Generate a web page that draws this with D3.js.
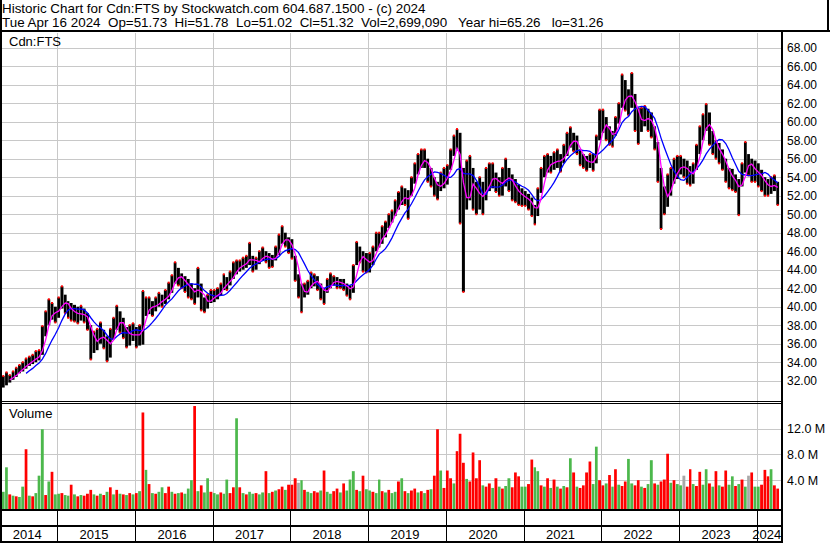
<!DOCTYPE html>
<html lang="en">
<head>
<meta charset="utf-8">
<title>Historic Chart Cdn:FTS</title>
<script src="https://d3js.org/d3.v7.min.js"></script>
<style>
  body { margin: 0; background: #fff; }
  svg { display: block; font-family: Arial, "Liberation Sans", sans-serif; }
  text { white-space: pre; }
</style>
</head>
<body>
<script>
// header text
var titleLine = "Historic Chart for Cdn:FTS by Stockwatch.com 604.687.1500 - (c) 2024";
var quoteLine = "Tue Apr 16 2024  Op=51.73  Hi=51.78  Lo=51.02  Cl=51.32  Vol=2,699,090   Year hi=65.26   lo=31.26";
var symbolLabel = "Cdn:FTS";

// x axis years (label row)
var years = [2014, 2015, 2016, 2017, 2018, 2019, 2020, 2021, 2022, 2023, 2024];

// price ticks on the right
var priceTicks = d3.range(32, 69, 2);
// volume ticks (millions)
var volTicks = [4, 8, 12];

// half-month periods, Apr 16 2014 -> Apr 16 2024 : high / low
var priceHigh = [
  // 2014 (from Apr 16)
  32.5, 32.9, 32.6, 33.0, 33.4, 33.7, 34.0, 34.4, 34.6, 34.8, 35.2, 35.3, 37.9, 39.5, 40.8, 40.4, 40.0,
  // 2015
  41.0, 42.2, 41.3, 40.6, 40.4, 40.2, 40.0, 40.1, 39.8, 39.3, 38.0, 37.3, 37.6, 38.3, 37.5, 36.8, 37.6, 38.8, 40.1, 39.5, 38.8, 37.8, 38.0, 38.2,
  // 2016
  37.8, 38.0, 41.7, 41.0, 41.0, 40.6, 41.0, 41.5, 41.3, 41.8, 42.6, 43.4, 44.8, 44.2, 43.6, 43.3, 43.0, 42.5, 42.0, 44.2, 42.5, 41.0, 41.3, 41.8,
  // 2017
  41.8, 42.0, 42.5, 43.5, 43.2, 43.8, 44.8, 45.0, 45.0, 45.3, 45.5, 46.9, 45.5, 45.3, 46.0, 46.4, 46.0, 45.8, 45.6, 46.5, 47.8, 48.7, 48.0, 47.5,
  // 2018
  47.3, 45.5, 43.5, 42.5, 42.5, 42.8, 43.7, 43.5, 43.3, 42.5, 42.0, 43.0, 43.6, 43.3, 43.2, 43.0, 43.0, 42.5, 42.3, 44.5, 47.0, 46.5, 46.0, 45.8,
  // 2019
  45.8, 46.5, 48.0, 48.0, 48.7, 49.2, 50.0, 50.4, 51.5, 52.4, 53.0, 52.8, 52.6, 54.0, 55.5, 56.5, 57.0, 57.0, 56.0, 55.0, 54.0, 53.5, 54.5, 55.0,
  // 2020
  55.3, 57.0, 58.5, 59.2, 58.8, 55.0, 55.8, 56.3, 55.0, 53.5, 54.0, 53.5, 55.0, 55.5, 55.5, 54.5, 54.0, 55.0, 56.0, 55.0, 54.3, 53.8, 53.2, 52.8,
  // 2021
  52.5, 52.2, 51.8, 51.0, 52.8, 55.0, 56.3, 56.5, 56.3, 56.7, 57.0, 56.5, 57.5, 58.8, 59.4, 58.8, 58.5, 57.0, 56.5, 56.3, 56.5, 56.5, 58.5, 61.3,
  // 2022
  61.3, 60.5, 59.5, 59.0, 60.5, 62.0, 65.1, 64.5, 63.5, 65.26, 63.0, 61.5, 61.5, 61.7, 61.4, 61.0, 59.5, 57.8, 55.0, 53.0, 54.3, 55.0, 56.0, 56.3,
  // 2023
  56.3, 56.0, 55.8, 55.2, 55.5, 57.5, 59.5, 60.8, 61.9, 61.0, 59.0, 58.0, 57.7, 57.0, 56.0, 55.0, 54.9, 54.3, 53.8, 55.5, 57.8, 56.5, 56.0, 55.8,
  // 2024 (to Apr 16)
  55.5, 54.8, 54.0, 53.8, 54.0, 54.2, 53.5
];
var priceLow = [
  // 2014
  31.26, 31.5, 31.8, 32.1, 32.4, 32.8, 33.0, 33.3, 33.6, 33.8, 34.0, 34.2, 34.8, 36.8, 38.0, 38.6, 38.3,
  // 2015
  38.8, 39.8, 39.3, 38.8, 38.5, 38.4, 38.2, 38.5, 38.3, 37.5, 34.3, 35.0, 35.3, 36.0, 35.5, 34.1, 34.5, 36.5, 37.5, 37.2, 36.6, 35.6, 35.8, 36.3,
  // 2016
  35.6, 35.8, 35.9, 39.0, 39.2, 39.0, 39.5, 40.0, 40.0, 40.3, 40.8, 41.5, 42.5, 42.3, 42.0, 41.6, 41.0, 40.8, 40.3, 41.0, 39.6, 39.4, 39.8, 40.4,
  // 2017
  40.5, 40.8, 41.2, 41.8, 41.8, 42.3, 43.0, 43.5, 43.8, 44.0, 44.2, 44.5, 43.8, 44.0, 44.6, 45.0, 44.8, 44.2, 44.3, 45.0, 45.6, 46.8, 46.5, 45.8,
  // 2018
  45.2, 42.8, 41.0, 39.4, 41.0, 41.3, 42.0, 42.2, 41.8, 40.8, 40.3, 41.5, 42.0, 42.3, 42.0, 42.0, 41.8, 41.2, 40.8, 41.5, 44.5, 44.8, 43.8, 43.7,
  // 2019
  43.7, 44.5, 46.0, 46.4, 46.8, 47.5, 48.5, 49.1, 49.8, 50.5, 51.0, 51.0, 49.5, 52.0, 53.3, 54.3, 55.0, 55.0, 53.5, 53.0, 52.0, 51.6, 52.5, 52.8,
  // 2020
  53.2, 54.8, 56.3, 57.0, 49.0, 41.6, 50.5, 51.5, 50.5, 50.0, 50.5, 50.0, 51.5, 52.5, 52.8, 52.4, 52.0, 52.0, 53.0, 52.5, 51.5, 51.3, 51.0, 50.9,
  // 2021
  50.9, 50.5, 49.8, 48.9, 49.8, 52.3, 54.0, 54.5, 54.5, 54.8, 55.0, 54.6, 55.5, 56.3, 57.2, 56.8, 56.5, 55.3, 55.0, 54.7, 55.0, 54.7, 55.5, 58.0,
  // 2022
  58.8, 58.0, 57.5, 57.3, 58.5, 59.8, 61.5, 61.2, 60.7, 61.5, 59.0, 57.6, 58.9, 59.5, 59.0, 58.3, 57.0, 53.5, 48.4, 50.0, 50.8, 52.0, 53.3, 53.8,
  // 2023
  54.3, 54.0, 53.3, 53.1, 53.3, 54.8, 56.5, 58.0, 59.0, 57.5, 56.5, 56.0, 55.5, 54.8, 53.5, 52.8, 52.6, 52.4, 49.9, 53.0, 54.5, 54.2, 53.5, 53.5,
  // 2024
  53.0, 52.5, 52.0, 52.0, 52.2, 52.5, 51.0
];

// volume per half-month, millions of shares
var volume = [
  // 2014
  2.2, 6.0, 1.8, 1.6, 1.5, 1.4, 3.0, 8.8, 1.6, 1.5, 2.0, 4.7, 11.9, 1.7, 3.8, 5.3, 1.8,
  // 2015
  1.9, 2.0, 1.7, 1.6, 3.3, 1.8, 1.5, 1.7, 1.6, 1.9, 2.5, 1.8, 1.6, 1.9, 1.7, 2.2, 2.9, 1.8, 2.5, 1.9, 1.8, 1.7, 2.0, 1.8,
  // 2016
  2.0, 2.3, 14.5, 5.6, 3.4, 2.0, 1.9, 2.2, 2.9, 2.0, 3.0, 2.2, 1.9, 2.0, 2.1, 1.9, 2.7, 4.0, 15.5, 2.3, 3.2, 2.1, 4.3, 2.2,
  // 2017
  2.0, 1.8, 2.1, 1.9, 4.1, 2.0, 2.9, 13.6, 2.9, 2.0, 1.8, 2.2, 1.9, 2.0, 1.8, 2.1, 5.4, 2.0, 2.2, 2.4, 2.6, 3.0, 2.5, 3.3,
  // 2018
  3.3, 4.3, 3.6, 4.0, 2.5, 2.2, 2.0, 2.3, 2.1, 2.4, 5.5, 2.2, 1.9, 2.3, 2.7, 2.1, 3.5, 2.4, 4.1, 5.4, 2.5, 2.3, 4.7, 2.6,
  // 2019
  2.4, 2.2, 2.0, 4.1, 2.3, 2.1, 2.5, 2.0, 2.2, 3.8, 4.3, 2.3, 2.0, 2.4, 2.7, 2.1, 2.3, 2.0, 2.5, 2.6, 4.7, 11.9, 5.5, 2.8,
  // 2020
  5.5, 4.3, 3.5, 8.5, 11.2, 6.7, 4.2, 3.8, 8.3, 4.3, 7.1, 3.2, 3.0, 3.5, 2.8, 4.3, 3.0, 2.7, 3.1, 4.3, 2.9, 5.2, 4.6, 3.0,
  // 2021
  3.0, 3.4, 7.2, 6.0, 5.4, 3.2, 3.0, 4.3, 2.8, 4.1, 3.0, 2.7, 3.1, 2.9, 7.4, 5.2, 3.0, 2.8, 3.2, 5.2, 6.9, 3.4, 9.2, 4.0,
  // 2022
  3.2, 3.5, 4.8, 3.0, 5.7, 3.3, 3.1, 3.8, 7.3, 3.5, 3.2, 4.0, 3.0, 2.8, 3.4, 7.1, 3.5, 3.3, 3.8, 4.1, 8.1, 3.6, 4.0, 3.4,
  // 2023
  3.2, 4.7, 3.0, 5.7, 3.4, 3.1, 5.3, 3.3, 5.7, 3.5, 3.0, 5.4, 3.2, 3.0, 5.5, 3.3, 4.6, 3.1, 3.4, 4.1, 3.0, 4.7, 5.2, 3.0,
  // 2024
  3.0, 3.3, 5.6, 4.6, 5.7, 3.2, 2.7
];
// bar colour per period: g = up, r = down, x = unchanged
var volColor = (
  "ggrgrggrgrgggrgrg" +
  "grggrgrgrrrgrgrgrgrgrgrg" +
  "rgrgrgrggrrgrgrgggrgrggr" +
  "ggrggrrgrgrggrggrgrgrrgr" +
  "rrxgrggrrgrggrrgrgggrgrg" +
  "grggrgrggrgrgrrgrgrgrrgr" +
  "rrgrrrgrrrrgrrgrgrggrrrg" +
  "grrggrgrgrgrgrgrgrrrrggr" +
  "rgrgrgrrggrrgrggrgrrrgrg" +
  "gxrrgrrggrgrgrrggrgrgxrg" +
  "grrrgrr").split("");

var colors = { g: "#4cb84c", r: "#ff0000", x: "#a8a8a8" };

// layout
var W = 830, H = 543;
var plotL = 2, plotR = 781;
var priceTop = 33, priceBot = 400;
var volBot = 509;

var svg = d3.select("body").append("svg").attr("width", W).attr("height", H);
svg.append("rect").attr("width", W).attr("height", H).attr("fill", "#fff");

var x = d3.scaleTime()
  .domain([new Date(2014, 3, 16), new Date(2024, 3, 16)])
  .range([1.7, 779.3]);
var yP = d3.scaleLinear().domain([32, 68]).range([380.7, 47.7]);
var yV = d3.scaleLinear().domain([0, 16]).range([506, 402.8]);

// period start date, half months counted from Jan 1 2014
function periodDate(i) {
  var h = 7 + i;
  var yr = 2014 + Math.floor(h / 24), hm = h % 24;
  return new Date(yr, Math.floor(hm / 2), hm % 2 ? 16 : 1);
}
var periods = priceHigh.map(function(hi, i) {
  var x0 = x(periodDate(i)), x1 = x(periodDate(i + 1));
  return { x0: x0, x1: x1, xc: (x0 + x1) / 2, hi: hi, lo: priceLow[i],
           mid: (hi + priceLow[i]) / 2, vol: volume[i], col: volColor[i] };
});

function movAvg(n) {
  var out = [];
  periods.forEach(function(p, i) {
    if (i < n - 1) return;
    out.push({ xc: p.xc, v: d3.mean(periods.slice(i - n + 1, i + 1), function(d) { return d.mid; }) });
  });
  return out;
}

// clip
svg.append("clipPath").attr("id", "pclip").append("rect")
  .attr("x", plotL).attr("y", priceTop).attr("width", plotR - plotL).attr("height", priceBot - priceTop);
svg.append("clipPath").attr("id", "vclip").append("rect")
  .attr("x", plotL).attr("y", 404).attr("width", plotR - plotL).attr("height", volBot - 404);

var grid = svg.append("g").attr("stroke", "#c8c8c8").attr("shape-rendering", "crispEdges");
grid.selectAll(".hp").data(priceTicks).enter().append("line")
  .attr("x1", plotL).attr("x2", plotR)
  .attr("y1", function(d) { return Math.round(yP(d)) + 0.5; })
  .attr("y2", function(d) { return Math.round(yP(d)) + 0.5; });
grid.selectAll(".hv").data(volTicks).enter().append("line")
  .attr("x1", plotL).attr("x2", plotR)
  .attr("y1", function(d) { return Math.round(yV(d)) + 0.5; })
  .attr("y2", function(d) { return Math.round(yV(d)) + 0.5; });
var yearLines = years.slice(1).map(function(y) { return Math.round(x(new Date(y, 0, 1))) + 0.5; });
grid.selectAll(".vy").data(yearLines).enter().append("line")
  .attr("x1", function(d) { return d; }).attr("x2", function(d) { return d; })
  .attr("y1", priceTop).attr("y2", volBot);

// volume bars
svg.append("g").attr("clip-path", "url(#vclip)")
  .selectAll("rect").data(periods).enter().append("rect")
  .attr("x", function(d) { return d.x0 + 0.2; })
  .attr("width", function(d) { return (d.x1 - d.x0) * 0.85; })
  .attr("y", function(d) { return yV(d.vol); })
  .attr("height", function(d) { return volBot - yV(d.vol); })
  .attr("fill", function(d) { return colors[d.col]; });

// price bars
var pg = svg.append("g").attr("clip-path", "url(#pclip)");
pg.selectAll(".bar").data(periods).enter().append("rect")
  .attr("x", function(d) { return d.x0 + 0.2; })
  .attr("width", function(d) { return d.x1 - d.x0 - 0.4; })
  .attr("y", function(d) { return yP(d.hi); })
  .attr("height", function(d) { return Math.max(1, yP(d.lo) - yP(d.hi)); })
  .attr("fill", "#000");
pg.selectAll(".tick").data(periods).enter().append("rect")
  .attr("x", function(d) { return d.xc - 1; })
  .attr("width", 2).attr("height", 2)
  .attr("y", function(d, i) {
    var up = i === 0 || d.mid >= periods[i - 1].mid;
    return up ? yP(d.hi) - 1 : yP(d.lo) - 1;
  })
  .attr("fill", "#ff0000");

// moving averages
var line = d3.line().x(function(d) { return d.xc; }).y(function(d) { return yP(d.v); });
pg.append("path").datum(movAvg(8)).attr("d", line)
  .attr("fill", "none").attr("stroke", "#0000ff").attr("stroke-width", 1.3);
pg.append("path").datum(movAvg(3)).attr("d", line)
  .attr("fill", "none").attr("stroke", "#ff00ff").attr("stroke-width", 1.3);

// frame lines
var frame = svg.append("g").attr("fill", "#000").attr("shape-rendering", "crispEdges");
frame.append("rect").attr("x", 0).attr("y", 0).attr("width", 2).attr("height", H);
frame.append("rect").attr("x", 0).attr("y", 30).attr("width", W).attr("height", 2);
frame.append("rect").attr("x", 827).attr("y", 0).attr("width", 2).attr("height", 31);
frame.append("rect").attr("x", plotR).attr("y", 31).attr("width", 2).attr("height", H - 31);
frame.append("rect").attr("x", 0).attr("y", 401).attr("width", plotR).attr("height", 1);
frame.append("rect").attr("x", 0).attr("y", 403).attr("width", plotR).attr("height", 1);
frame.append("rect").attr("x", 0).attr("y", 509).attr("width", plotR).attr("height", 2);
frame.append("rect").attr("x", 0).attr("y", 525).attr("width", plotR).attr("height", 2);
frame.append("rect").attr("x", 0).attr("y", 541).attr("width", plotR).attr("height", 2);
frame.selectAll(".yt").data(yearLines).enter().append("rect")
  .attr("x", function(d) { return d - 0.5; }).attr("width", 1)
  .attr("y", 511).attr("height", 30);

// texts
svg.append("text").attr("x", 2).attr("y", 12.7).attr("font-size", "13.4px").text(titleLine);
svg.append("text").attr("x", 2).attr("y", 26.7).attr("font-size", "13.4px").text(quoteLine);
svg.append("text").attr("x", 9).attr("y", 46).attr("font-size", "13px").text(symbolLabel);
svg.append("text").attr("x", 9).attr("y", 418).attr("font-size", "13px").text("Volume");

svg.selectAll(".pl").data(priceTicks).enter().append("text")
  .attr("x", 787).attr("y", function(d) { return yP(d) + 4.4; })
  .attr("font-size", "12px").text(function(d) { return d.toFixed(2); });
svg.selectAll(".vl").data(volTicks).enter().append("text")
  .attr("x", 787).attr("y", function(d) { return yV(d) + 4.6; })
  .attr("font-size", "12.5px").text(function(d) { return d.toFixed(1) + " M"; });

var yearEdges = [plotL].concat(yearLines, [plotR]);
svg.selectAll(".yl").data(years).enter().append("text")
  .attr("x", function(d, i) { return (yearEdges[i] + yearEdges[i + 1]) / 2 - 2.5; })
  .attr("y", 539).attr("text-anchor", "middle").attr("font-size", "13px")
  .text(function(d) { return d; });
</script>
</body>
</html>
